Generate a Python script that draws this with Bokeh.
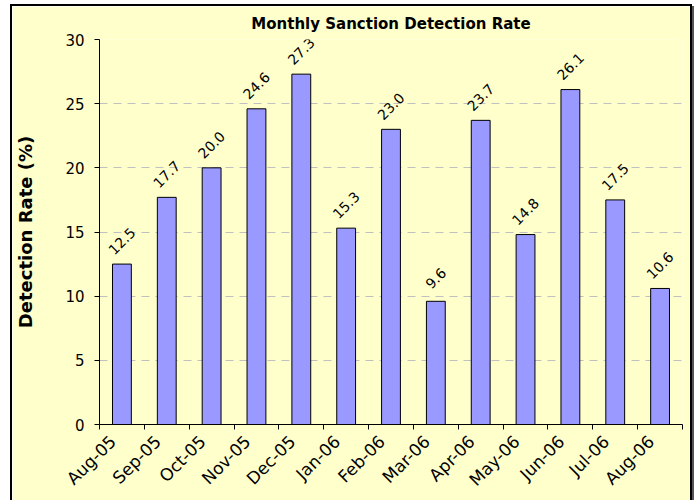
import math
from bokeh.plotting import figure
from bokeh.models import (ColumnDataSource, FixedTicker, Range1d, LabelSet,
                          CustomJSTickFormatter)
from bokeh.core.properties import value
from bokeh.embed import file_html
from bokeh.resources import INLINE

months = ["Aug-05", "Sep-05", "Oct-05", "Nov-05", "Dec-05", "Jan-06", "Feb-06",
          "Mar-06", "Apr-06", "May-06", "Jun-06", "Jul-06", "Aug-06"]
rates = [12.5, 17.7, 20.0, 24.6, 27.3, 15.3, 23.0, 9.6, 23.7, 14.8, 26.1, 17.5, 10.6]
y_ticks = [0, 5, 10, 15, 20, 25, 30]
title_text = "Monthly Sanction Detection Rate"
y_label = "Detection Rate (%)"

n = len(months)
centers = [i + 0.5 for i in range(n)]
label_ticks = [c - 0.2 for c in centers]
src = ColumnDataSource(dict(x=centers, rate=rates, lbl=[f"{r:.1f}" for r in rates]))

FONT = "DejaVu Sans"
p = figure(width=678, height=494, x_range=Range1d(0, n), y_range=Range1d(0, 30),
           output_backend="svg", toolbar_location=None,
           min_border_left=86, min_border_right=8, min_border_top=32, min_border_bottom=76,
           background_fill_color="#FFFFCC", border_fill_color="#FFFFCC")
p.margin = (6, 4, 0, 12)
p.styles = {"box-shadow": "0 0 0 2px #000000, 2px 2px 0 2px #555555"}

xa = p.below[0]
ya = p.left[0]

p.title.text = title_text
p.title.align = "center"
p.title.text_font = FONT
p.title.text_font_size = "15px"
p.title.text_font_style = "bold"
p.title.text_color = "black"
p.title.standoff = 13

p.outline_line_color = None
p.xgrid.visible = False
p.ygrid.ticker = FixedTicker(ticks=y_ticks)
p.ygrid.grid_line_color = "#C0C0C0"
p.ygrid.grid_line_dash = "8 6"
p.ygrid.grid_line_width = 1

p.vbar(x="x", top="rate", width=0.42, source=src,
       fill_color="#9999FF", line_color="black", line_width=1)

labels = LabelSet(x="x", y="rate", text="lbl", source=src, angle=math.pi / 4,
                  text_align="center", text_baseline="middle", y_offset=23,
                  text_font=value(FONT), text_font_size=value("14px"),
                  text_color="black")
p.add_layout(labels)

ya.ticker = FixedTicker(ticks=y_ticks)
ya.minor_tick_line_color = None
ya.major_tick_out = 5
ya.major_tick_in = 0
ya.major_tick_line_color = "black"
ya.axis_line_color = "black"
ya.major_label_text_font = FONT
ya.major_label_text_font_size = "15px"
ya.major_label_text_color = "black"
ya.major_label_standoff = 10
ya.axis_label = y_label
ya.axis_label_text_font = FONT
ya.axis_label_text_font_size = "18px"
ya.axis_label_text_font_style = "bold"
ya.axis_label_text_color = "black"
ya.axis_label_standoff = 26

xa.ticker = FixedTicker(ticks=label_ticks, minor_ticks=list(range(n + 1)))
xa.formatter = CustomJSTickFormatter(args=dict(labels=months),
                                     code="return labels[Math.round(tick - 0.5)];")
xa.major_tick_out = 0
xa.major_tick_in = 0
xa.minor_tick_out = 5
xa.minor_tick_in = 0
xa.minor_tick_line_color = "black"
xa.axis_line_color = "black"
xa.major_label_orientation = math.pi / 4
xa.major_label_text_font = FONT
xa.major_label_text_font_size = "17px"
xa.major_label_text_color = "black"
xa.major_label_standoff = 9

open("out.html", "w").write(file_html(p, INLINE))
